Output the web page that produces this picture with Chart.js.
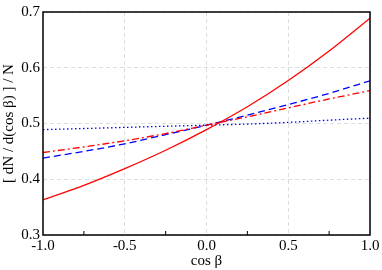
<!DOCTYPE html>
<html><head><meta charset="utf-8">
<script src="https://cdn.jsdelivr.net/npm/chart.js@4"></script>
<style>html,body{margin:0;padding:0;background:#fff}#w{width:382px;height:270px}</style>
</head><body><div id="w"><canvas id="c"></canvas></div>
<script>
const cosBeta = [-1.0, -0.75, -0.5, -0.25, 0.0, 0.25, 0.5, 0.75, 1.0];
const redSolid = [0.363, 0.389, 0.419, 0.452, 0.489, 0.530, 0.577, 0.630, 0.689];
const redDashDot = [0.448, 0.458, 0.469, 0.482, 0.497, 0.512, 0.528, 0.544, 0.559];
const blueDashed = [0.438, 0.450, 0.4636, 0.480, 0.497, 0.515, 0.534, 0.554, 0.5766];
const blueDotted = [0.489, 0.491, 0.493, 0.495, 0.497, 0.499, 0.502, 0.506, 0.5096];
const xTicks = [-1.0, -0.5, 0.0, 0.5, 1.0];
const yTicks = [0.3, 0.4, 0.5, 0.6, 0.7];
const minorX = [-0.75, -0.25, 0.25, 0.75];

const pts = a => cosBeta.map((x, i) => ({x, y: a[i]}));
const ds = (data, color, dash, w) => ({data: pts(data), borderColor: color, borderDash: dash, borderWidth: w, pointRadius: 0, fill: false, cubicInterpolationMode: 'monotone'});
const font = {family: '"Liberation Serif", "DejaVu Serif", serif', size: 15};

const frame = {
  id: 'frame',
  afterDraw(chart) {
    const {ctx, chartArea: a, scales} = chart;
    ctx.save();
    ctx.strokeStyle = '#000'; ctx.lineWidth = 1.5;
    ctx.strokeRect(a.left, a.top, a.right - a.left, a.bottom - a.top);
    ctx.lineWidth = 1;
    ctx.beginPath();
    minorX.forEach(v => { const px = scales.x.getPixelForValue(v); ctx.moveTo(px, a.bottom); ctx.lineTo(px, a.bottom - 4); });
    ctx.stroke();
    ctx.restore();
  }
};

new Chart(document.getElementById('c'), {
  type: 'line',
  data: {datasets: [
    ds(redSolid, '#ff0000', [], 1.3),
    ds(redDashDot, '#ff0000', [7, 3, 2, 3], 1.3),
    ds(blueDashed, '#0000ff', [7, 4], 1.3),
    ds(blueDotted, '#0000ff', [1.5, 2.5], 1.3)
  ]},
  options: {
    responsive: true, maintainAspectRatio: false, animation: false,
    layout: {padding: {top: 6, right: 12, left: 0, bottom: 0}},
    plugins: {legend: {display: false}, tooltip: {enabled: false}},
    scales: {
      x: {
        type: 'linear', min: -1, max: 1,
        afterBuildTicks: s => { s.ticks = xTicks.map(v => ({value: v})); },
        afterFit: s => { s.height = 35; },
        ticks: {font, color: '#000', padding: 2, callback: v => v.toFixed(1), maxRotation: 0},
        grid: {color: '#dddddd', drawTicks: false, lineWidth: 1},
        border: {display: false, dash: [4, 3]},
        title: {display: true, text: 'cos β', font: {...font, size: 15}, color: '#000', padding: {top: 0, bottom: 0}}
      },
      y: {
        min: 0.3, max: 0.7,
        afterBuildTicks: s => { s.ticks = yTicks.map(v => ({value: v})); },
        afterFit: s => { s.width = 43; },
        ticks: {font, color: '#000', padding: 3, callback: v => v.toFixed(1)},
        grid: {color: '#dddddd', drawTicks: false, lineWidth: 1},
        border: {display: false, dash: [4, 3]},
        title: {display: true, text: '[ dN / d(cos β) ] / N', font: {...font, size: 15}, color: '#000', padding: {top: 0, bottom: 0}}
      }
    }
  },
  plugins: [frame]
});
</script></body></html>
